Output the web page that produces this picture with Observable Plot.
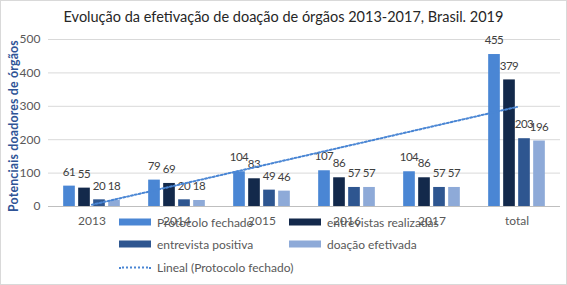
<!DOCTYPE html>
<html>
<head>
<meta charset="utf-8">
<script src="https://cdn.jsdelivr.net/npm/d3@7"></script>
<script src="https://cdn.jsdelivr.net/npm/@observablehq/plot@0.6"></script>
<style>
  html, body { margin: 0; padding: 0; background: #fff; }
  #wrap { position: relative; width: 567px; height: 285px; overflow: hidden; font-family: Lato, "Open Sans", sans-serif; }
  #frame { position: absolute; left: 0; top: 0; width: 565px; height: 283px; border: 1px solid #d9d9d9; pointer-events: none; }
  #title { position: absolute; left: 0; width: 567px; top: 8px; text-align: center; font-size: 14.5px; color: #262626; white-space: nowrap; }
  #ylab { position: absolute; left: 13px; top: 126px; width: 0; height: 0; }
  #ylab span { position: absolute; left: 0; top: 0; transform: translate(-50%, -50%) rotate(-90deg); font-size: 12.3px; letter-spacing: 0.2px; font-weight: bold; color: #2f5496; white-space: nowrap; display: block; }
  #chart { position: absolute; left: 0; top: 0; }
  #chart g[aria-label="text"] text { letter-spacing: -0.5px; }
  .lg { position: absolute; font-size: 12px; color: #595959; white-space: nowrap; display: flex; align-items: center; transform: translateY(-50%); }
  .sw { width: 32px; height: 7px; margin-right: 6px; }
  .ln { width: 32px; height: 0; border-top: 2px dotted #4a86d4; margin-right: 6px; }
</style>
</head>
<body>
<div id="wrap">
  <div id="chart"></div>
  <div id="title">Evolução da efetivação de doação de órgãos 2013-2017, Brasil. 2019</div>
  <div id="ylab"><span>Potenciais doadores de órgãos</span></div>
  <div id="legend"></div>
  <div id="frame"></div>
</div>
<script>
const categories = ["2013", "2014", "2015", "2016", "2017", "total"];
const protocoloFechado = [61, 79, 104, 107, 104, 455];
const entrevistasRealizadas = [55, 69, 83, 86, 86, 379];
const entrevistaPositiva = [20, 20, 49, 57, 57, 203];
const doacaoEfetivada = [18, 18, 46, 57, 57, 196];
const seriesNames = ["Protocolo fechado", "entrevistas realizadas", "entrevista positiva", "doação efetivada"];
const seriesColors = ["#4a86d4", "#13294b", "#2e5690", "#8eaad8"];
const yTicks = [0, 100, 200, 300, 400, 500];
const trendName = "Lineal (Protocolo fechado)";

const allSeries = [protocoloFechado, entrevistasRealizadas, entrevistaPositiva, doacaoEfetivada];
const offsets = [-22.5, -7.5, 7.5, 22.5];
const barW = 12;

const width = 567, height = 285;
const mL = 48, mR = 7, mT = 39, mB = 79;
const bandW = (width - mL - mR) / categories.length;
const inset = (bandW - barW) / 2;

// least-squares linear trend of Protocolo fechado over category index
const xs = categories.map((_, i) => i + 1);
const mx = d3.mean(xs), my = d3.mean(protocoloFechado);
const slope = d3.sum(xs, (x, i) => (x - mx) * (protocoloFechado[i] - my)) / d3.sum(xs, x => (x - mx) ** 2);
const trend = categories.map((c, i) => ({category: c, value: my + slope * (xs[i] - mx)}));

const marks = [
  Plot.gridY(yTicks, {stroke: "#d9d9d9", strokeOpacity: 1}),
  Plot.ruleY([0], {stroke: "#bfbfbf"}),
  Plot.axisY({ticks: yTicks, tickSize: 0, tickPadding: 8, label: null, fill: "#595959", fontSize: 12}),
  Plot.axisX({tickSize: 0, tickPadding: 10, label: null, fill: "#595959", fontSize: 12})
];
allSeries.forEach((vals, k) => {
  const rows = categories.map((c, i) => ({category: c, value: vals[i]}));
  marks.push(Plot.barY(rows, {x: "category", y: "value", fill: seriesColors[k], dx: offsets[k], insetLeft: inset, insetRight: inset}));
});
allSeries.forEach((vals, k) => {
  const rows = categories.map((c, i) => ({category: c, value: vals[i]}));
  marks.push(Plot.text(rows, {x: "category", y: "value", text: "value", dx: offsets[k] - 0.5, dy: -14, fill: "#404040", fontSize: 11.5}));
});
marks.push(Plot.line(trend, {x: "category", y: "value", stroke: "#4a86d4", strokeWidth: 2, strokeDasharray: "2,2"}));

const chart = Plot.plot({
  width, height,
  marginLeft: mL, marginRight: mR, marginTop: mT, marginBottom: mB,
  x: {domain: categories, padding: 0, label: null},
  y: {domain: [0, 500], label: null},
  style: {fontFamily: "Lato, 'Open Sans', sans-serif", fontSize: "12px", background: "transparent", overflow: "visible"},
  marks
});
document.getElementById("chart").appendChild(chart);

// legend
const legendItems = [
  {label: seriesNames[0], color: seriesColors[0], left: 119, top: 222},
  {label: seriesNames[1], color: seriesColors[1], left: 289, top: 222},
  {label: seriesNames[2], color: seriesColors[2], left: 119, top: 244},
  {label: seriesNames[3], color: seriesColors[3], left: 289, top: 244},
  {label: trendName, color: null, left: 119, top: 267}
];
const lg = document.getElementById("legend");
legendItems.forEach(it => {
  const d = document.createElement("div");
  d.className = "lg";
  d.style.left = it.left + "px";
  d.style.top = it.top + "px";
  const s = document.createElement("span");
  if (it.color) { s.className = "sw"; s.style.background = it.color; } else { s.className = "ln"; }
  d.appendChild(s);
  const t = document.createElement("span");
  t.textContent = it.label;
  d.appendChild(t);
  lg.appendChild(d);
});
</script>
</body>
</html>
